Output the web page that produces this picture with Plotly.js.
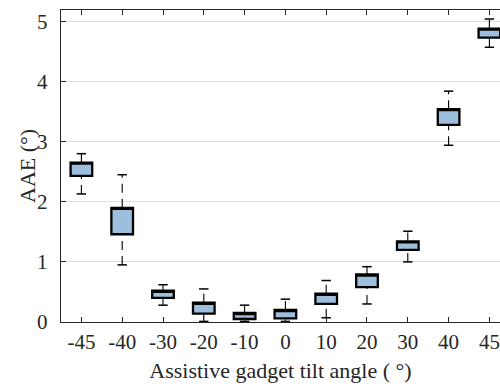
<!DOCTYPE html>
<html>
<head>
<meta charset="utf-8">
<script src="https://cdn.plot.ly/plotly-3.0.1.min.js"></script>
<style>
html,body{margin:0;padding:0;background:#fff;}
#chart{width:500px;height:386px;}
</style>
</head>
<body>
<div id="chart"></div>
<script>
// Data
const angles   = ["-45","-40","-30","-20","-10","0","10","20","30","40","45"];
const upperW   = [2.80, 2.45, 0.62, 0.55, 0.28, 0.38, 0.69, 0.92, 1.51, 3.84, 5.04];
const q3       = [2.65, 1.90, 0.52, 0.32, 0.15, 0.20, 0.47, 0.79, 1.34, 3.54, 4.88];
const q1       = [2.43, 1.46, 0.40, 0.14, 0.05, 0.06, 0.30, 0.58, 1.20, 3.28, 4.73];
const lowerW   = [2.13, 0.95, 0.28, 0.01, 0.01, 0.01, 0.07, 0.30, 1.00, 2.94, 4.57];

const idx = angles.map((_, i) => i);
const capHalf = 0.115;
const boxWidth = 0.53;

const wx = [], wy = [];
idx.forEach(i => {
  wx.push(i, i, null, i, i, null);
  wy.push(q3[i], upperW[i], null, lowerW[i], q1[i], null);
});
const cx = [], cy = [];
idx.forEach(i => {
  cx.push(i - capHalf, i + capHalf, null, i - capHalf, i + capHalf, null);
  cy.push(upperW[i], upperW[i], null, lowerW[i], lowerW[i], null);
});

const FONT = 'Liberation Serif, Times New Roman, serif';
const W = 500, ML = 61, MR = 0;

const traces = [
  {
    type: 'scatter', mode: 'lines', x: wx, y: wy,
    line: {color: '#000', width: 1.1, dash: '9px,6px'},
    hoverinfo: 'skip', showlegend: false, connectgaps: false
  },
  {
    type: 'scatter', mode: 'lines', x: cx, y: cy,
    line: {color: '#000', width: 1.5},
    hoverinfo: 'skip', showlegend: false, connectgaps: false
  },
  {
    type: 'box', x: idx, q1: q1, median: q3, q3: q3,
    lowerfence: q1, upperfence: q3,
    width: boxWidth,
    fillcolor: '#9dbfdd',
    line: {color: '#000', width: 2.3},
    whiskerwidth: 0,
    boxpoints: false,
    showlegend: false, hoverinfo: 'skip'
  }
];

const layout = {
  width: W, height: 386,
  margin: {l: ML, r: MR, t: 10, b: 64},
  paper_bgcolor: '#fff', plot_bgcolor: '#fff',
  font: {family: FONT, color: '#262626', size: 21},
  showlegend: false,
  xaxis: {
    range: [-0.5, 10.26],
    tickmode: 'array', tickvals: idx, ticktext: angles,
    ticks: 'inside', ticklen: 5, tickwidth: 1, tickcolor: '#262626',
    showline: true, linecolor: '#262626', linewidth: 1.3, mirror: 'ticks',
    showgrid: false, zeroline: false,
    tickfont: {family: FONT, size: 21, color: '#262626'},
    title: {text: 'Assistive gadget tilt angle ( °)', font: {family: FONT, size: 22, color: '#262626'}, standoff: 10}
  },
  yaxis: {
    range: [0, 5.19],
    tickvals: [0,1,2,3,4,5],
    ticks: 'inside', ticklen: 5, tickwidth: 1, tickcolor: '#262626',
    showline: true, linecolor: '#262626', linewidth: 1.3,
    showgrid: true, gridcolor: '#dedede', gridwidth: 1,
    zeroline: false,
    tickfont: {family: FONT, size: 21, color: '#262626'},
    ticklabelstandoff: 8
  },
  annotations: [{
    text: 'AAE (°)', textangle: -90,
    xref: 'paper', yref: 'paper',
    x: (27 - ML) / (W - ML - MR), y: 0.5,
    xanchor: 'center', yanchor: 'middle', showarrow: false,
    font: {family: FONT, size: 22, color: '#262626'}
  }]
};

Plotly.newPlot('chart', traces, layout, {displayModeBar: false, staticPlot: true});
</script>
</body>
</html>
